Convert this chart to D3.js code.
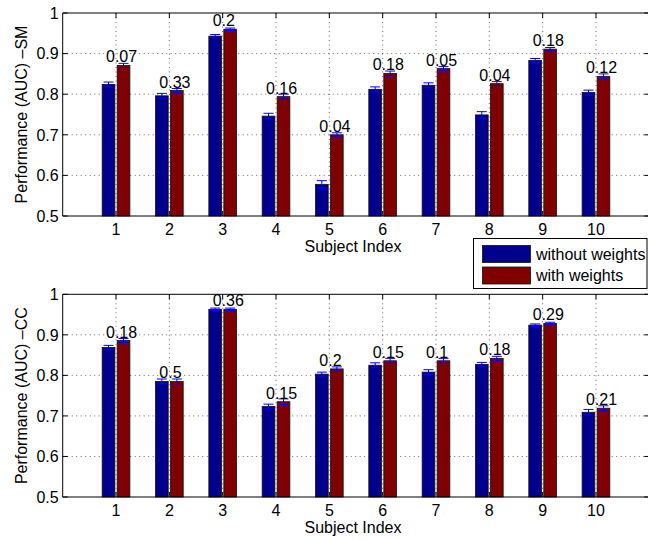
<!DOCTYPE html>
<html><head><meta charset="utf-8">
<script src="https://cdn.jsdelivr.net/npm/d3@7"></script>
<style>body{margin:0;background:#fff}svg{display:block}</style>
</head><body>
<script>
const subjects = [1,2,3,4,5,6,7,8,9,10];
const smWithout = [0.824,0.796,0.943,0.746,0.578,0.812,0.822,0.749,0.883,0.804];
const smWith    = [0.871,0.809,0.960,0.794,0.700,0.851,0.863,0.826,0.911,0.844];
const smErrWithout = [0.006,0.006,0.004,0.007,0.009,0.006,0.006,0.008,0.005,0.006];
const smErrWith    = [0.005,0.005,0.003,0.006,0.005,0.006,0.005,0.005,0.004,0.006];
const smLabels = ["0.07","0.33","0.2","0.16","0.04","0.18","0.05","0.04","0.18","0.12"];
const ccWithout = [0.869,0.785,0.963,0.723,0.803,0.825,0.808,0.827,0.924,0.709];
const ccWith    = [0.886,0.785,0.963,0.735,0.816,0.836,0.836,0.842,0.928,0.719];
const ccErrWithout = [0.005,0.006,0.003,0.006,0.005,0.006,0.006,0.005,0.003,0.007];
const ccErrWith    = [0.005,0.006,0.003,0.007,0.005,0.006,0.006,0.005,0.003,0.006];
const ccLabels = ["0.18","0.5","0.36","0.15","0.2","0.15","0.1","0.18","0.29","0.21"];
const yTicks = [0.5,0.6,0.7,0.8,0.9,1];
const seriesNames = ["without weights","with weights"];
const colors = ["#00008f","#800000"];
const errColor = "#0000ff";
const FONT = "'Liberation Sans', Arial, Helvetica, sans-serif";
const FS = 16;

const W = 648, H = 540;
const svg = d3.select("body").append("svg").attr("width",W).attr("height",H)
  .style("font-family",FONT);

const x = d3.scaleLinear().domain([0,11]).range([62.7,649.3]);

function panel(top, bottom, without, withW, errA, errB, labels, ylab){
  const y = d3.scaleLinear().domain([0.5,1]).range([bottom, top]);
  const g = svg.append("g");
  // grid
  g.selectAll(".gx").data(subjects).enter().append("line")
    .attr("x1",d=>x(d)).attr("x2",d=>x(d)).attr("y1",top).attr("y2",bottom)
    .attr("stroke","#444").attr("stroke-width",0.8).attr("stroke-dasharray","1 3.5");
  g.selectAll(".gy").data(yTicks.slice(1,-1)).enter().append("line")
    .attr("x1",x.range()[0]).attr("x2",x.range()[1]).attr("y1",d=>y(d)).attr("y2",d=>y(d))
    .attr("stroke","#444").attr("stroke-width",0.8).attr("stroke-dasharray","1 3.5");
  const bw = 12.7, off = 7.5;
  const data = subjects.map((s,i)=>({s,i}));
  // bars
  [without, withW].forEach((vals,k)=>{
    g.selectAll(".b"+k).data(data).enter().append("rect")
      .attr("x",d=>x(d.s)+(k?off:-off)-bw/2).attr("width",bw)
      .attr("y",d=>y(vals[d.i])).attr("height",d=>y(0.5)-y(vals[d.i]))
      .attr("fill",colors[k]).attr("stroke","#111").attr("stroke-width",0.8);
  });
  // error bars
  [[without,errA],[withW,errB]].forEach(([vals,errs],k)=>{
    const eg = g.selectAll(".e"+k).data(data).enter().append("g")
      .attr("stroke",errColor).attr("stroke-width",1);
    const cx = d=>x(d.s)+(k?off:-off);
    eg.append("line").attr("x1",cx).attr("x2",cx)
      .attr("y1",d=>y(vals[d.i]-errs[d.i])).attr("y2",d=>y(vals[d.i]+errs[d.i]));
    [-1,1].forEach(sg=>{
      eg.append("line").attr("x1",d=>cx(d)-5).attr("x2",d=>cx(d)+5)
        .attr("y1",d=>y(vals[d.i]+sg*errs[d.i])).attr("y2",d=>y(vals[d.i]+sg*errs[d.i]));
    });
  });
  // labels
  g.selectAll(".lab").data(data).enter().append("text")
    .attr("x",d=>x(d.s)-10).attr("y",d=>y(withW[d.i])-3)
    .attr("font-size",FS).attr("fill","#000").text(d=>labels[d.i]);
  // axes box
  const x0 = x.range()[0], x1 = x.range()[1];
  g.append("path").attr("d",`M${x1},${top}H${x0}V${bottom}H${x1}V${top}`)
    .attr("fill","none").attr("stroke","#000").attr("stroke-width",1);
  // ticks inward
  g.selectAll(".tb").data(subjects).enter().append("path")
    .attr("d",d=>`M${x(d)},${bottom}v-5M${x(d)},${top}v5`).attr("stroke","#000");
  g.selectAll(".tl").data(yTicks).enter().append("path")
    .attr("d",d=>`M${x0},${y(d)}h5M${x1},${y(d)}h-5`).attr("stroke","#000");
  // tick labels
  g.selectAll(".xl").data(subjects).enter().append("text")
    .attr("x",d=>x(d)).attr("y",bottom+19).attr("text-anchor","middle")
    .attr("font-size",FS).text(d=>d);
  g.selectAll(".yl").data(yTicks).enter().append("text")
    .attr("x",x0-4).attr("y",d=>y(d)).attr("dy","0.36em").attr("text-anchor","end")
    .attr("font-size",FS).text(d=>d3.format("~g")(d));
  g.append("text").attr("x",(x0+x1)/2-3).attr("y",bottom+36).attr("text-anchor","middle")
    .attr("font-size",FS).text("Subject Index");
  g.append("text").attr("transform",`translate(21,${(top+bottom)/2}) rotate(-90)`)
    .attr("text-anchor","middle").attr("dy","0.35em").attr("font-size",FS).text(ylab);
}

panel(13, 216, smWithout, smWith, smErrWithout, smErrWith, smLabels, "Performance (AUC) \u2013SM");
panel(294.3, 497, ccWithout, ccWith, ccErrWithout, ccErrWith, ccLabels, "Performance (AUC) \u2013CC");

// legend
const lg = svg.append("g");
lg.append("rect").attr("x",473.5).attr("y",238.5).attr("width",173.5).attr("height",50)
  .attr("fill","#fff").attr("stroke","#000").attr("stroke-width",1);
seriesNames.forEach((n,k)=>{
  lg.append("rect").attr("x",482.5).attr("y",245.5+k*21.5).attr("width",48).attr("height",17)
    .attr("fill",colors[k]).attr("stroke","#111").attr("stroke-width",0.8);
  lg.append("text").attr("x",536).attr("y",259.5+k*21).attr("font-size",FS).text(n);
});
</script>
</body></html>
